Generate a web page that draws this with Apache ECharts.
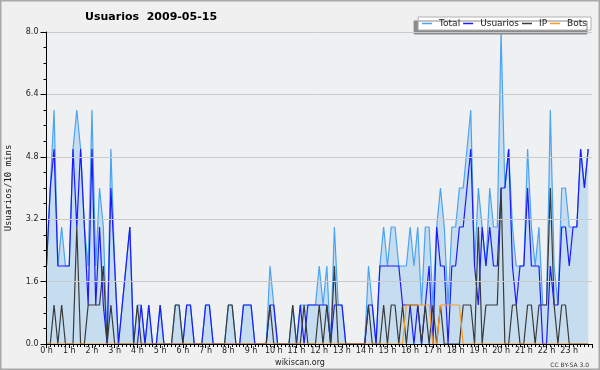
<!DOCTYPE html>
<html>
<head>
<meta charset="utf-8">
<script src="https://cdn.jsdelivr.net/npm/echarts@6/dist/echarts.min.js"></script>
<style>
html,body{margin:0;padding:0;background:#f0f0f0;}
#chart{width:600px;height:370px;}
</style>
</head>
<body>
<div id="chart"></div>
<script>
// 10-minute slots, 144 per day
const hourLabels = ['0 h','1 h','2 h','3 h','4 h','5 h','6 h','7 h','8 h','9 h','10 h','11 h',
  '12 h','13 h','14 h','15 h','16 h','17 h','18 h','19 h','20 h','21 h','22 h','23 h'];

const total = [
  2,4,6,2,3,2,2,5,6,5,3,2,6,2,4,3,0,5,2,0,1,2,3,0,
  1,1,0,1,0,0,1,0,0,0,1,1,0,1,1,0,0,0,1,1,0,0,0,0,
  1,1,0,0,1,1,1,0,0,0,0,2,1,0,0,0,0,1,0,1,1,1,1,1,
  2,1,2,0,3,1,1,0,0,0,0,0,0,2,1,0,2,3,2,3,3,2,2,2,
  3,2,3,1,3,3,1,3,4,3,1,3,3,4,4,5,6,2,4,3,2,4,3,3,
  8,4,5,3,2,2,2,5,3,2,3,1,1,6,2,1,4,4,3,3,3,5,4,5
];
const usuarios = [
  2,4,5,2,2,2,2,5,3,5,3,1,5,1,3,1,0,4,2,0,1,2,3,0,
  0,1,0,1,0,0,1,0,0,0,0,0,0,1,1,0,0,0,1,1,0,0,0,0,
  0,0,0,0,1,1,1,0,0,0,0,1,1,0,0,0,0,0,0,1,0,1,1,1,
  1,1,1,0,1,1,1,0,0,0,0,0,0,1,1,0,2,2,2,2,2,2,1,1,
  1,0,1,0,1,2,0,3,2,2,0,2,2,3,3,4,5,2,1,3,2,3,2,2,
  4,4,5,2,1,2,2,4,2,2,2,0,0,2,1,1,3,3,2,3,3,5,4,5
];
const ip = [
  0,0,1,0,1,0,0,0,3,0,0,1,1,1,1,2,0,1,0,0,0,0,0,0,
  1,0,0,0,0,0,0,0,0,0,1,1,0,0,0,0,0,0,0,0,0,0,0,0,
  1,1,0,0,0,0,0,0,0,0,0,1,0,0,0,0,0,1,0,0,1,0,0,0,
  1,0,1,0,2,0,0,0,0,0,0,0,0,1,0,0,0,1,0,1,1,0,1,0,
  1,1,1,0,1,0,1,0,1,0,0,0,0,0,1,1,1,0,3,0,1,1,1,1,
  4,0,0,1,1,0,0,1,1,0,1,1,1,4,1,0,1,1,0,0,0,0,0,0
];
const bots = [
  0,0,0,0,0,0,0,0,0,0,0,0,0,0,0,0,0,0,0,0,0,0,0,0,
  0,0,0,0,0,0,0,0,0,0,0,0,0,0,0,0,0,0,0,0,0,0,0,0,
  0,0,0,0,0,0,0,0,0,0,0,0,0,0,0,0,0,0,0,0,0,0,0,0,
  0,0,0,0,0,0,0,0,0,0,0,0,0,0,0,0,0,0,0,0,0,0,0,1,
  1,1,1,1,1,1,0,0,1,1,1,1,1,1,0,0,0,0,0,0,0,0,0,0,
  0,0,0,0,0,0,0,0,0,0,0,0,0,0,0,0,0,0,0,0,0,0,0,0
];

const pairs = arr => arr.map((v, i) => [i, v]);
const chart = echarts.init(document.getElementById('chart'));
const font = 'DejaVu Sans';

chart.setOption({
  backgroundColor: '#f0f0f0',
  animation: false,
  title: {
    text: 'Usuarios  2009-05-15',
    left: 85, top: 12, padding: 0,
    textStyle: {fontFamily: font, fontSize: 11, fontWeight: 'bold', color: '#000'}
  },
  legend: {
    right: 9, top: 17,
    padding: [2, 4, 2, 4],
    itemWidth: 10, itemHeight: 1.5, itemGap: 3,
    icon: 'rect',
    backgroundColor: '#ffffff',
    borderColor: '#b0b0b0', borderWidth: 1,
    shadowColor: '#8a8a8a', shadowBlur: 0, shadowOffsetX: -4, shadowOffsetY: 4,
    textStyle: {fontFamily: font, fontSize: 9, color: '#222', padding: [0, 0, 0, 2]},
    data: ['Total', 'Usuarios', 'IP', 'Bots']
  },
  grid: {
    left: 46.5, right: 8, top: 32, bottom: 26,
    containLabel: false, outerBoundsMode: 'none',
    show: true, backgroundColor: '#eef0f2', borderWidth: 0
  },
  xAxis: {
    type: 'value', min: 0, max: 144, interval: 6, z: 10,
    axisLine: {show: true, lineStyle: {color: '#000', width: 1}},
    axisTick: {show: true, length: 4, lineStyle: {color: '#000'}},
    minorTick: {show: true, splitNumber: 6, length: 3, lineStyle: {color: '#000'}},
    splitLine: {show: false},
    axisLabel: {
      fontFamily: font, fontSize: 8, color: '#222', margin: 3,
      alignMinLabel: 'center', alignMaxLabel: 'center',
      formatter: v => hourLabels[v / 6] || ''
    }
  },
  yAxis: {
    type: 'value', min: 0, max: 8, interval: 1.6, z: 10,
    name: 'Usuarios/10 mins', nameLocation: 'middle', nameGap: 33,
    nameTextStyle: {fontFamily: 'DejaVu Sans Mono', fontSize: 9, color: '#111'},
    axisLine: {show: true, lineStyle: {color: '#000', width: 1}},
    axisTick: {show: true, length: 6, lineStyle: {color: '#000'}},
    minorTick: {show: true, splitNumber: 4, length: 3, lineStyle: {color: '#000'}},
    splitLine: {show: true, lineStyle: {color: '#cacaca', width: 1}},
    axisLabel: {
      fontFamily: font, fontSize: 8, color: '#222', margin: 8,
      formatter: v => v.toFixed(1)
    }
  },
  graphic: [
    {type: 'rect', shape: {x: 0.75, y: 0.75, width: 598.5, height: 368.5},
     style: {fill: 'none', stroke: '#a8a8a8', lineWidth: 1.5}, z: 100},
    {type: 'text', left: 'center', top: 359,
     style: {text: 'wikiscan.org', font: '8px "DejaVu Sans"', fill: '#222'}},
    {type: 'text', right: 11, top: 362,
     style: {text: 'CC BY-SA 3.0', font: '6px "DejaVu Sans"', fill: '#333'}}
  ],
  series: [
    {name: 'Total', type: 'line', data: pairs(total), showSymbol: false, symbol: 'none',
     color: '#4aa3f3', lineStyle: {width: 1.2, color: '#4aa3f3'},
     areaStyle: {color: '#c6ddf0', opacity: 1}},
    {name: 'Usuarios', type: 'line', data: pairs(usuarios), showSymbol: false, symbol: 'none',
     color: '#1a1aff', lineStyle: {width: 1.2, color: '#1a1aff'}},
    {name: 'IP', type: 'line', data: pairs(ip), showSymbol: false, symbol: 'none',
     color: '#3a3a3a', lineStyle: {width: 1.2, color: '#3a3a3a'}},
    {name: 'Bots', type: 'line', data: pairs(bots), showSymbol: false, symbol: 'none',
     color: '#ff9a1a', lineStyle: {width: 1.2, color: '#ff9a1a'}}
  ]
});
</script>
</body>
</html>
